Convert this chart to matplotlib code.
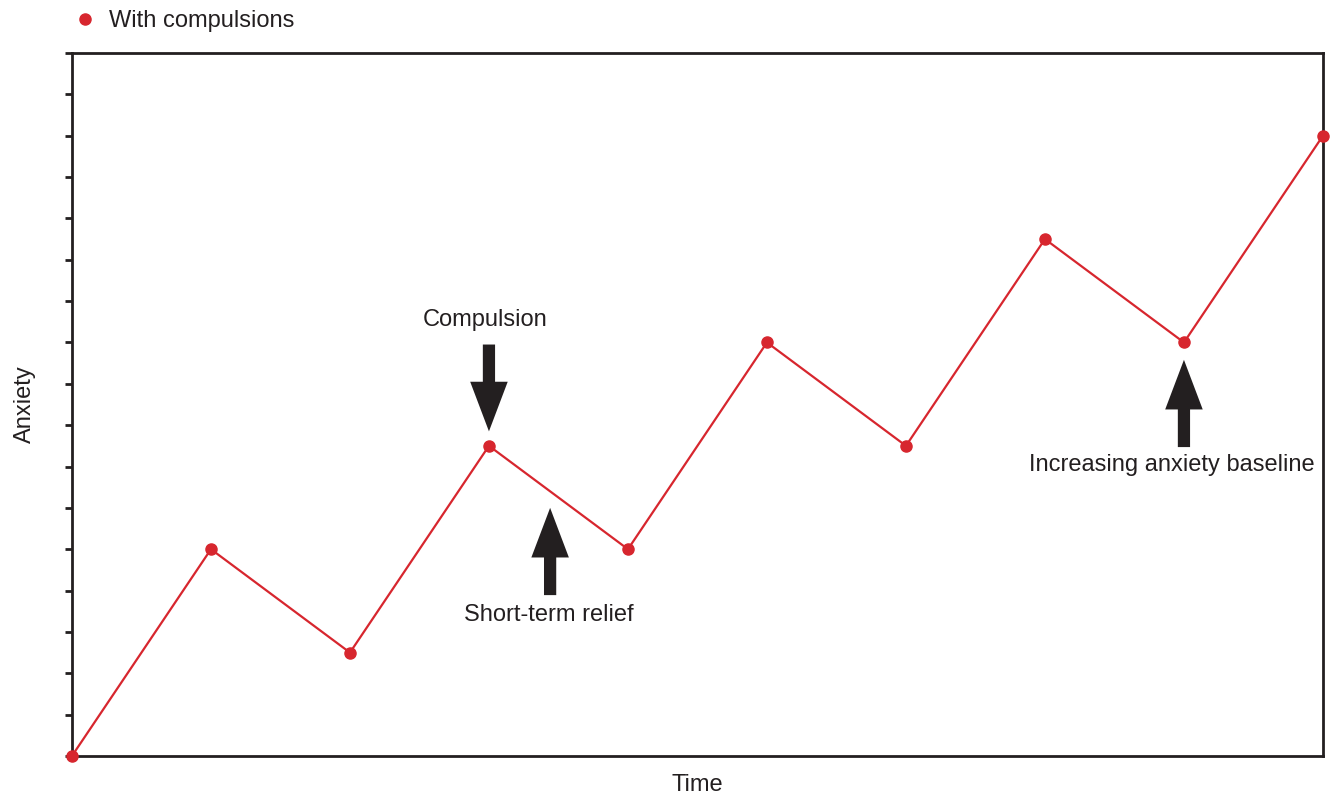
import matplotlib
matplotlib.use("Agg")
import matplotlib.pyplot as plt
from matplotlib.lines import Line2D

plt.rcParams['font.family'] = ['Liberation Sans', 'DejaVu Sans']

# data
time_steps = [0, 1, 2, 3, 4, 5, 6, 7, 8, 9]
anxiety = [0, 5, 2.5, 7.5, 5, 10, 7.5, 12.5, 10, 15]

# annotation arrows: (x, y_start, y_end) and labels
arrows = [(3.0, 9.95, 7.85), (3.44, 3.89, 6.0), (8.0, 7.47, 9.58)]
labels = [("Compulsion", 2.975, 10.54),
          ("Short-term relief", 3.43, 3.41),
          ("Increasing anxiety baseline", 7.91, 7.04)]

red = '#d7262e'
dark = '#231f20'

fig = plt.figure(figsize=(13.3, 7.96), dpi=100)
ax = fig.add_axes([0.0541, 0.0503, 0.9406, 0.8831])

ax.plot(time_steps, anxiety, color=red, lw=1.6, marker='o', ms=8,
        clip_on=False, zorder=3)

for x, y0, y1 in arrows:
    ax.arrow(x, y0, 0, y1 - y0, width=0.088, head_width=0.27,
             head_length=1.2, length_includes_head=True,
             color=dark, lw=0, zorder=4)

for txt, x, y in labels:
    ax.text(x, y, txt, ha='center', va='center', fontsize=17, color=dark)

ax.set_xlim(0, 9)
ax.set_ylim(0, 17)
ax.set_xticks([])
ax.set_yticks(range(0, 18))
ax.tick_params(axis='y', direction='out', length=5, width=2, color=dark,
               labelleft=False)
for s in ax.spines.values():
    s.set_linewidth(2)
    s.set_color(dark)

ax.set_xlabel("Time", fontsize=17, color=dark, labelpad=13)
ax.set_ylabel("Anxiety", fontsize=17, color=dark, labelpad=21)

handle = Line2D([], [], color=red, marker='o', ms=8, lw=0)
fig.legend([handle], ["With compulsions"], loc='upper left',
           bbox_to_anchor=(0.039, 1.014), frameon=False, fontsize=17,
           handletextpad=0.5, handlelength=1.0, labelcolor=dark)

fig.savefig("out.png", dpi=100)
